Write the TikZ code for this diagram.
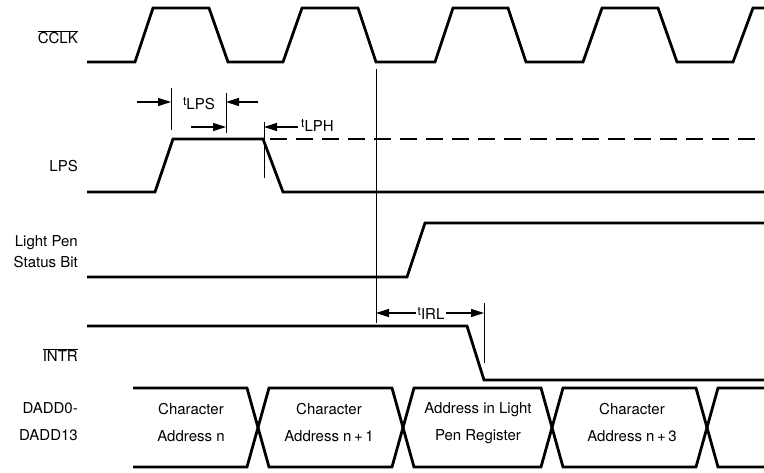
\documentclass[tikz,border=0pt]{standalone}
\usepackage{fontspec}
\setmainfont{TeX Gyre Heros}
\usetikzlibrary{arrows.meta}
\newcommand\tlab[1]{{\fontsize{12}{12}\selectfont t}\raisebox{-4pt}{#1}}
\newcommand\ovl[1]{$\overline{\mbox{#1}}$}
\begin{document}
\begin{tikzpicture}[x=1pt,y=-1pt,
  sig/.style={line width=2.8pt, line join=miter, line cap=butt},
  thin/.style={line width=1pt},
  arr/.style={line width=1.1pt, -{Triangle[length=13pt,width=8pt]}},
  lbl/.style={font=\fontsize{15}{21}\selectfont, inner sep=0pt},
  sigl/.style={lbl, anchor=east, align=right},
  boxt/.style={font=\fontsize{15}{27}\selectfont, inner sep=0pt, align=center}]
\useasboundingbox (0,0) rectangle (764,473);
% signal labels
\node[sigl] (lclk) at (78,37) {\ovl{CCLK}};
\node[sigl] (llps) at (78,166) {LPS};
\node[sigl] (llp) at (78,252) {Light Pen\\Status Bit};
\node[sigl] (lintr) at (78,355) {\ovl{INTR}};
\node[sigl, font=\fontsize{15}{27}\selectfont] (ldadd) at (78,422) {DADD0-\\DADD13};
% CCLK
\draw[sig] (87,62) -- (135,62) -- (153,8) -- (209,8) -- (228,62) -- (283,62) -- (302,8) -- (358,8) -- (376,62) -- (435,62) -- (453,8) -- (508,8) -- (526,62) -- (583,62) -- (602,8) -- (658,8) -- (677,62) -- (733,62) -- (753,8) -- (766,8);
% LPS
\draw[sig] (87,192) -- (155,192) -- (173,139) -- (263,139) -- (283,192) -- (766,192);
\draw[sig, dash pattern=on 17pt off 9pt] (270,139) -- (766,139);
% Light pen status bit
\draw[sig] (87,277) -- (407,277) -- (425,223) -- (766,223);
% INTR
\draw[sig] (87,326) -- (467,326) -- (484,380) -- (766,380);
% bus
\draw[sig] (133,388) -- (247,388) -- (269,467) -- (392,467) -- (414,388) -- (541,388) -- (563,467) -- (696,467) -- (718,388) -- (766,388);
\draw[sig] (133,467) -- (247,467) -- (269,388) -- (392,388) -- (414,467) -- (541,467) -- (563,388) -- (696,388) -- (718,467) -- (766,467);
\node[boxt] (b1) at (191,423) {Character\\Address n};
\node[boxt] (b2) at (329,423) {Character\\Address n\,+\,1};
\node[boxt] (b3) at (478,423) {Address in Light\\Pen Register};
\node[boxt] (b4) at (632,423) {Character\\Address n\,+\,3};
% reference line
\coordinate (r1) at (376,69);
\coordinate (r2) at (376,323);
\draw[thin] (r1) -- (r2);
% tLPS
\coordinate (a1t) at (171,88); \coordinate (a1b) at (171,130);
\coordinate (a2t) at (226,93); \coordinate (a2b) at (226,133);
\draw[thin] (a1t) -- (a1b);
\draw[thin] (a2t) -- (a2b);
\coordinate (s1) at (137,102); \coordinate (e1) at (171,102);
\coordinate (s2) at (258,102); \coordinate (e2) at (226,102);
\coordinate (s3) at (191,127); \coordinate (e3) at (226,127);
\draw[arr] (s1) -- (e1);
\draw[arr] (s2) -- (e2);
\draw[arr] (s3) -- (e3);
\node[lbl] (tlps) at (199,104) {\tlab{LPS}};
% tLPH
\coordinate (h1) at (264,122); \coordinate (h2) at (264,178);
\draw[thin] (h1) -- (h2);
\coordinate (s4) at (298,127); \coordinate (e4) at (264,127);
\draw[arr] (s4) -- (e4);
\node[lbl, anchor=west] (tlph) at (301,125) {\tlab{LPH}};
% tIRL
\coordinate (i1) at (484,303); \coordinate (i2) at (484,363);
\draw[thin] (i1) -- (i2);
\node[lbl] (tirl) at (431,313) {\tlab{IRL}};
\coordinate (e5) at (376,313); \coordinate (e6) at (484,313);
\draw[arr] (tirl.west) ++(-1,0) -- (e5);
\draw[arr] (tirl.east) ++(1,0) -- (e6);
\end{tikzpicture}
\end{document}
